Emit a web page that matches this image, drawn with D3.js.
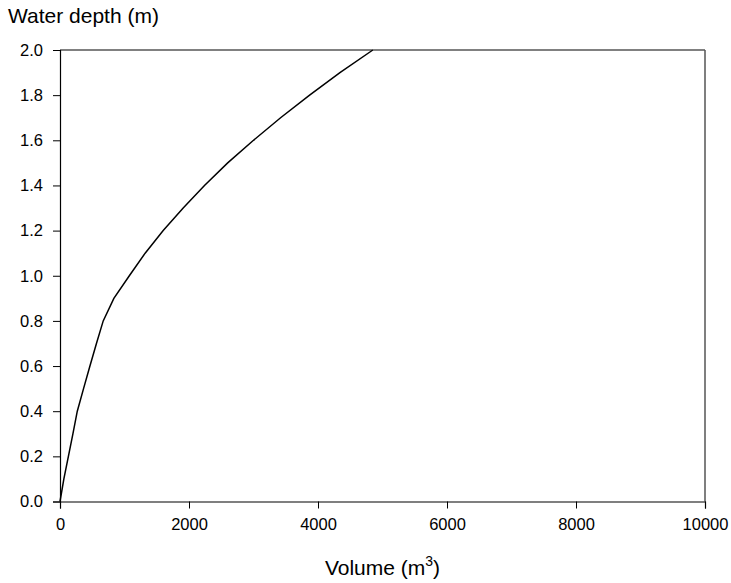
<!DOCTYPE html>
<html>
<head>
<meta charset="utf-8">
<script src="https://cdn.jsdelivr.net/npm/d3@7"></script>
<style>
  body { margin: 0; background: #fff; }
  svg { display: block; font-family: "Liberation Sans", Arial, sans-serif; }
</style>
</head>
<body>
<svg id="chart" width="731" height="583"></svg>
<script>
const volume = [0, 60, 130, 200, 268, 365, 464, 565, 670, 835, 1075, 1320, 1600, 1910, 2240, 2600, 3000, 3420, 3870, 4340, 4850];
const depth  = [0, 0.1, 0.2, 0.3, 0.4, 0.5, 0.6, 0.7, 0.8, 0.9, 1.0, 1.1, 1.2, 1.3, 1.4, 1.5, 1.6, 1.7, 1.8, 1.9, 2.0];
const xTicks = [0, 2000, 4000, 6000, 8000, 10000];
const yTicks = [0, 0.2, 0.4, 0.6, 0.8, 1.0, 1.2, 1.4, 1.6, 1.8, 2.0];

const svg = d3.select("#chart");
const mLeft = 60, mRight = 705, mTop = 50, mBottom = 501.5;

const x = d3.scaleLinear().domain([0, 10000]).range([mLeft, mRight]);
const y = d3.scaleLinear().domain([0, 2]).range([mBottom, mTop]);

// frame top & right
svg.append("line").attr("x1", mLeft).attr("x2", mRight).attr("y1", mTop).attr("y2", mTop)
  .attr("stroke", "#808080").attr("stroke-width", 2);
svg.append("line").attr("x1", mRight).attr("x2", mRight).attr("y1", mTop).attr("y2", mBottom)
  .attr("stroke", "#555").attr("stroke-width", 1.5);

// x axis
const xAxis = svg.append("g").attr("transform", `translate(0,${mBottom})`)
  .call(d3.axisBottom(x).tickValues(xTicks).tickSize(7).tickPadding(10).tickFormat(d3.format("d")));
// y axis
const yAxis = svg.append("g").attr("transform", `translate(${mLeft},0)`)
  .call(d3.axisLeft(y).tickValues(yTicks).tickSize(7).tickPadding(10).tickFormat(d3.format(".1f")));

[xAxis, yAxis].forEach(g => {
  g.select(".domain").attr("stroke", "#000").attr("stroke-width", 1.2);
  g.selectAll(".tick line").attr("stroke", "#000").attr("stroke-width", 1);
  g.selectAll(".tick text").attr("font-size", 16.5).attr("fill", "#000")
    .attr("font-family", "Liberation Sans, Arial, sans-serif");
});

// curve
const pts = volume.map((v, i) => [v, depth[i]]);
svg.append("path").datum(pts)
  .attr("fill", "none").attr("stroke", "#000").attr("stroke-width", 1.5)
  .attr("d", d3.line().x(d => x(d[0])).y(d => y(d[1])));

// titles
svg.append("text").attr("x", 8).attr("y", 23).attr("font-size", 21).attr("fill", "#000")
  .text("Water depth (m)");

const xl = svg.append("text").attr("x", (mLeft + mRight) / 2).attr("y", 575)
  .attr("text-anchor", "middle").attr("font-size", 21).attr("fill", "#000");
xl.append("tspan").text("Volume (m");
xl.append("tspan").attr("font-size", 14).attr("dy", -9).text("3");
xl.append("tspan").attr("dy", 9).text(")");
</script>
</body>
</html>
